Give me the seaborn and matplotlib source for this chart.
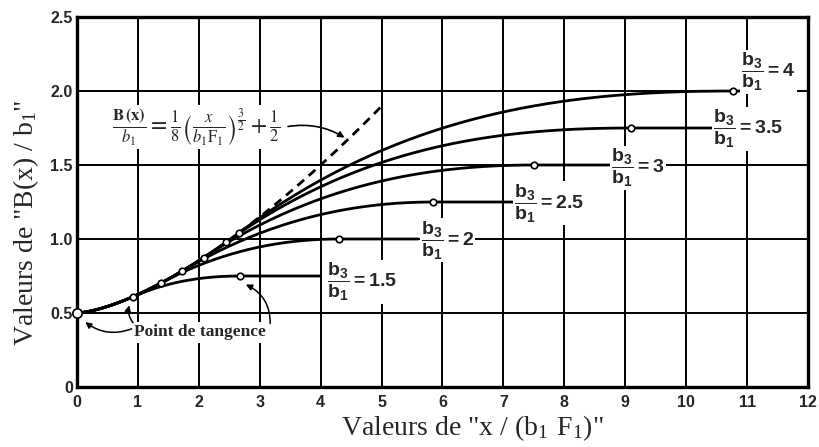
import numpy as np
import pandas as pd
import matplotlib
matplotlib.use("Agg")
import matplotlib.pyplot as plt
import seaborn as sns

# Ratio b3/b1 of each curve and its plateau value B/b1
ratios = [1.5, 2, 2.5, 3, 3.5, 4]
plateaus = [0.75, 1.0, 1.25, 1.5, 1.75, 2.0]
# abscissa where each curve leaves the 3/2-power curve (point de tangence)
tangent_x = [0.92, 1.38, 1.72, 2.08, 2.45, 2.66]
# abscissa where each curve reaches its plateau
summit_x = [2.68, 4.30, 5.85, 7.50, 9.10, 10.77]
# abscissa where the plateau line stops (at its label)
line_end_x = [4.0, 5.6, 7.22, 8.8, 10.48, 10.9]

# dashed reference curve B/b1 = 1/8 (x/b1F1)^(3/2) + 1/2
dashed_start, dashed_stop = 2.66, 5.0

x_ticks = list(range(13))
x_tick_labels = [str(v) for v in x_ticks]
y_ticks = [0, 0.5, 1.0, 1.5, 2.0, 2.5]
y_tick_labels = ["0", "0.5", "1.0", "1.5", "2.0", "2.5"]


def base(x):
    return np.asarray(x, dtype=float) ** 1.5 / 8 + 0.5


def base_slope(x):
    return 1.5 / 8 * np.sqrt(np.asarray(x, dtype=float))


def transition(x0, x1, y1, n=120):
    # smooth cubic joint from the tangent point to the plateau start
    t = np.linspace(0, 1, n)
    h = x1 - x0
    y0, m0 = base(x0), base_slope(x0)
    y = ((2 * t**3 - 3 * t**2 + 1) * y0 + (t**3 - 2 * t**2 + t) * h * m0
         + (-2 * t**3 + 3 * t**2) * y1)
    return x0 + t * h, y


rows = []
for r, p, xt, xs, xe in zip(ratios, plateaus, tangent_x, summit_x, line_end_x):
    xa = np.linspace(0, xt, 60)
    xb, yb = transition(xt, xs, p)
    xs_all = np.concatenate([xa, xb[1:], [xe]])
    ys_all = np.concatenate([base(xa), yb[1:], [p]])
    for i, (xv, yv) in enumerate(zip(xs_all, ys_all)):
        rows.append({"curve": str(r), "order": i, "x": xv, "y": yv})
curves = pd.DataFrame(rows)

xd = np.linspace(dashed_start, dashed_stop, 50)
dashed = pd.DataFrame({"x": xd, "y": base(xd)})

marks = pd.DataFrame({
    "x": list(tangent_x) + list(summit_x),
    "y": list(base(tangent_x)) + list(plateaus),
})

sns.set_theme(style="white")
plt.rcParams["mathtext.fontset"] = "custom"
plt.rcParams["mathtext.bf"] = "Liberation Sans:bold"
plt.rcParams["mathtext.rm"] = "Liberation Sans"

fig = plt.figure(figsize=(8.2, 4.47), dpi=100)
ax = fig.add_axes([77 / 820, 1 - 387 / 447, 731 / 820, 370 / 447])

ax.set_xlim(0, 12)
ax.set_ylim(0, 2.5)
ax.set_xticks(x_ticks)
ax.set_xticklabels(x_tick_labels)
ax.set_yticks(y_ticks)
ax.set_yticklabels(y_tick_labels)
ax.grid(True, color="black", linewidth=1.4)
ax.set_axisbelow(True)
for s in ax.spines.values():
    s.set_color("black")
    s.set_linewidth(2.4)
ax.tick_params(length=0, pad=3, labelsize=11.5)
ax.tick_params(axis="x", pad=6)
for lab in ax.get_xticklabels() + ax.get_yticklabels():
    lab.set_fontfamily("Liberation Sans")
    lab.set_fontweight("bold")

sns.lineplot(data=curves, x="x", y="y", units="curve", estimator=None,
             sort=False, color="black", linewidth=2.0, ax=ax, zorder=3)
sns.lineplot(data=dashed, x="x", y="y", color="black", linewidth=2.0,
             linestyle=(0, (3.2, 2.2)), ax=ax, zorder=3)
sns.scatterplot(data=marks, x="x", y="y", s=22, facecolor="white",
                edgecolor="black", linewidth=1.2, ax=ax, zorder=4)
ax.scatter([0], [0.5], s=45, facecolor="white", edgecolor="black",
           linewidth=1.2, zorder=5, clip_on=False)

# b3/b1 labels at the end of each plateau
label_pos = [(4.68, 0.71), (6.08, 0.99), (7.75, 1.24), (9.21, 1.48),
             (11.02, 1.745), (11.35, 2.13)]
for r, (lx, ly) in zip(ratios, label_pos):
    txt = r"$\dfrac{\mathbf{b_3}}{\mathbf{b_1}}\mathbf{=%s}$" % ("%g" % r)
    ax.text(lx, ly, txt, ha="center", va="center", fontsize=14,
            math_fontfamily="custom", zorder=6,
            bbox=dict(boxstyle="square,pad=0.05", fc="white", ec="none"))

# formula of the dashed curve
ax.text(1.95, 1.755,
        r"$\frac{\mathbf{B\,(x)}}{b_1}=\frac{1}{8}\left(\frac{x}{b_1\mathrm{F}_1}\right)^{\frac{3}{2}}+\frac{1}{2}$",
        ha="center", va="center", fontsize=17, math_fontfamily="stix",
        zorder=6, bbox=dict(boxstyle="square,pad=0.05", fc="white", ec="none"))
ax.annotate("", xy=(4.43, 1.675), xytext=(3.42, 1.757),
            arrowprops=dict(arrowstyle="-|>", color="black", lw=1.2,
                            mutation_scale=9,
                            connectionstyle="arc3,rad=-0.2"), zorder=6)

# "Point de tangence" callout
ax.text(2.02, 0.37, "Point de tangence", ha="center", va="center",
        fontsize=12.5, fontfamily="Liberation Serif", fontweight="bold",
        zorder=6, bbox=dict(boxstyle="square,pad=0.15", fc="white", ec="none"))
arrow_kw = dict(arrowstyle="-|>", color="black", lw=1.1, mutation_scale=9)
ax.annotate("", xy=(0.1, 0.45), xytext=(0.94, 0.40),
            arrowprops=dict(connectionstyle="arc3,rad=-0.3", **arrow_kw), zorder=6)
ax.annotate("", xy=(0.87, 0.57), xytext=(0.95, 0.42),
            arrowprops=dict(connectionstyle="arc3,rad=-0.3", **arrow_kw), zorder=6)
ax.annotate("", xy=(2.73, 0.70), xytext=(3.17, 0.41),
            arrowprops=dict(connectionstyle="arc3,rad=0.35", **arrow_kw), zorder=6)

ax.set_xlabel("")
ax.set_ylabel("")
fig.text(472 / 820, 1 - 428 / 447, 'Valeurs de "x / ($\\mathregular{b_1\\ F_1}$)"',
         ha="center", va="center", fontsize=20, fontfamily="Liberation Serif")
fig.text(26 / 820, 1 - 223 / 447, 'Valeurs de "B(x) / $\\mathregular{b_1}$"',
         ha="center", va="center", rotation=90, fontsize=20,
         fontfamily="Liberation Serif")

fig.savefig("out.png", dpi=100, facecolor="white")
